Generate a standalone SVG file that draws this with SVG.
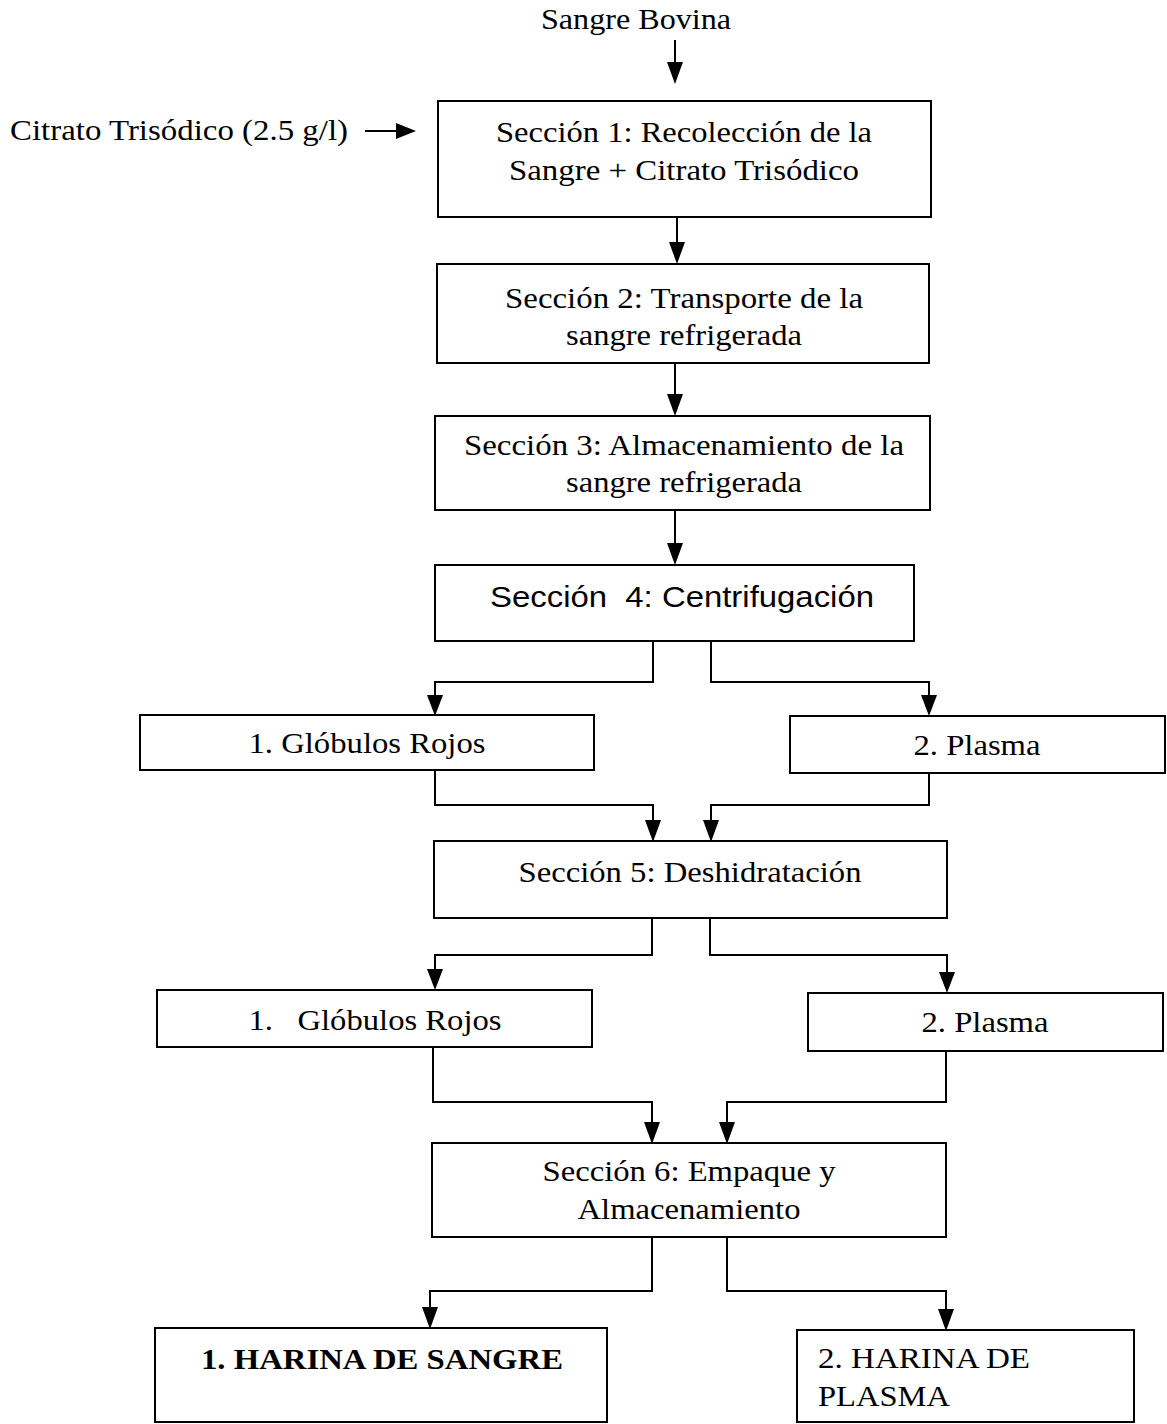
<svg xmlns="http://www.w3.org/2000/svg" width="1167" height="1424" viewBox="0 0 1167 1424">
<style>
.box{fill:#fff;stroke:#000;stroke-width:2}
.t{font-family:"Liberation Serif","Times New Roman",serif;font-size:30px;fill:#000;text-anchor:middle}
.s{font-family:"Liberation Sans",Arial,sans-serif;font-size:30px;fill:#000;text-anchor:middle}
.b{font-weight:bold}
.c{fill:none;stroke:#000;stroke-width:2}
.h{fill:#000}
</style>
<rect width="1167" height="1424" fill="#fff"/>
<g id="connectors">
<line class="c" x1="675" y1="40" x2="675" y2="64"/>
<path class="h" d="M667,62 L683,62 L675,84 Z"/>
<line class="c" x1="365" y1="131" x2="400" y2="131"/>
<path class="h" d="M396,123 L416,131 L396,139 Z"/>
<line class="c" x1="677" y1="217" x2="677" y2="244"/>
<path class="h" d="M669,242 L685,242 L677,264 Z"/>
<line class="c" x1="675" y1="363" x2="675" y2="396"/>
<path class="h" d="M667,394 L683,394 L675,416 Z"/>
<line class="c" x1="675" y1="510" x2="675" y2="545"/>
<path class="h" d="M667,543 L683,543 L675,565 Z"/>
<polyline class="c" points="653,641 653,682 435,682 435,698"/>
<path class="h" d="M427,695 L443,695 L435,716 Z"/>
<polyline class="c" points="711,641 711,682 929,682 929,698"/>
<path class="h" d="M921,695 L937,695 L929,716 Z"/>
<polyline class="c" points="435,770 435,805 653,805 653,822"/>
<path class="h" d="M645,820 L661,820 L653,842 Z"/>
<polyline class="c" points="929,773 929,805 711,805 711,822"/>
<path class="h" d="M703,820 L719,820 L711,842 Z"/>
<polyline class="c" points="652,918 652,955 435,955 435,972"/>
<path class="h" d="M427,969 L443,969 L435,990 Z"/>
<polyline class="c" points="710,918 710,955 947,955 947,975"/>
<path class="h" d="M939,972 L955,972 L947,993 Z"/>
<polyline class="c" points="433,1047 433,1102 652,1102 652,1124"/>
<path class="h" d="M644,1122 L660,1122 L652,1144 Z"/>
<polyline class="c" points="946,1051 946,1102 727,1102 727,1124"/>
<path class="h" d="M719,1122 L735,1122 L727,1144 Z"/>
<polyline class="c" points="652,1237 652,1291 430,1291 430,1310"/>
<path class="h" d="M422,1307 L438,1307 L430,1329 Z"/>
<polyline class="c" points="727,1237 727,1291 946,1291 946,1312"/>
<path class="h" d="M938,1309 L954,1309 L946,1331 Z"/>
</g>
<g id="n-sangre-bovina"><text class="t" x="636" y="29" textLength="190" lengthAdjust="spacingAndGlyphs">Sangre Bovina</text></g>
<g id="n-citrato"><text class="t" x="179" y="140" textLength="338" lengthAdjust="spacingAndGlyphs">Citrato Trisódico (2.5 g/l)</text></g>
<g id="n-s1"><rect class="box" x="438" y="101" width="493" height="116"/>
<text class="t" x="684" y="142" textLength="376" lengthAdjust="spacingAndGlyphs">Sección 1: Recolección de la</text>
<text class="t" x="684" y="180" textLength="350" lengthAdjust="spacingAndGlyphs">Sangre + Citrato Trisódico</text></g>
<g id="n-s2"><rect class="box" x="437" y="264" width="492" height="99"/>
<text class="t" x="684" y="308" textLength="358" lengthAdjust="spacingAndGlyphs">Sección 2: Transporte de la</text>
<text class="t" x="684" y="345" textLength="236" lengthAdjust="spacingAndGlyphs">sangre refrigerada</text></g>
<g id="n-s3"><rect class="box" x="435" y="416" width="495" height="94"/>
<text class="t" x="684" y="455" textLength="440" lengthAdjust="spacingAndGlyphs">Sección 3: Almacenamiento de la</text>
<text class="t" x="684" y="492" textLength="236" lengthAdjust="spacingAndGlyphs">sangre refrigerada</text></g>
<g id="n-s4"><rect class="box" x="435" y="565" width="479" height="76"/>
<text class="s" x="682" y="607" textLength="384" lengthAdjust="spacingAndGlyphs">Sección&#160; 4: Centrifugación</text></g>
<g id="n-gr1"><rect class="box" x="140" y="715" width="454" height="55"/>
<text class="t" x="367" y="753" textLength="237" lengthAdjust="spacingAndGlyphs">1. Glóbulos Rojos</text></g>
<g id="n-pl1"><rect class="box" x="790" y="716" width="375" height="57"/>
<text class="t" x="977" y="755" textLength="127" lengthAdjust="spacingAndGlyphs">2. Plasma</text></g>
<g id="n-s5"><rect class="box" x="434" y="841" width="513" height="77"/>
<text class="t" x="690" y="882" textLength="343" lengthAdjust="spacingAndGlyphs">Sección 5: Deshidratación</text></g>
<g id="n-gr2"><rect class="box" x="157" y="990" width="435" height="57"/>
<text class="t" x="375" y="1030" textLength="253" lengthAdjust="spacingAndGlyphs">1.&#160;&#160; Glóbulos Rojos</text></g>
<g id="n-pl2"><rect class="box" x="808" y="993" width="355" height="58"/>
<text class="t" x="985" y="1032" textLength="127" lengthAdjust="spacingAndGlyphs">2. Plasma</text></g>
<g id="n-s6"><rect class="box" x="432" y="1143" width="514" height="94"/>
<text class="t" x="689" y="1181" textLength="293" lengthAdjust="spacingAndGlyphs">Sección 6: Empaque y</text>
<text class="t" x="689" y="1219" textLength="223" lengthAdjust="spacingAndGlyphs">Almacenamiento</text></g>
<g id="n-hs"><rect class="box" x="155" y="1328" width="452" height="94"/>
<text class="t b" x="382" y="1369" textLength="362" lengthAdjust="spacingAndGlyphs">1. HARINA DE SANGRE</text></g>
<g id="n-hp"><rect class="box" x="797" y="1330" width="337" height="92"/>
<text class="t" x="818" y="1368" style="text-anchor:start" textLength="212" lengthAdjust="spacingAndGlyphs">2. HARINA DE</text>
<text class="t" x="818" y="1406" style="text-anchor:start" textLength="132" lengthAdjust="spacingAndGlyphs">PLASMA</text></g>
</svg>
